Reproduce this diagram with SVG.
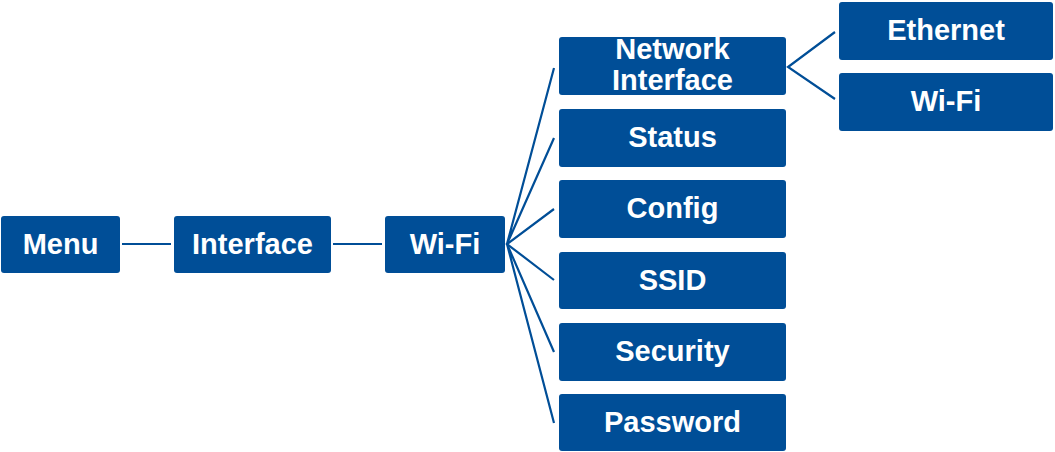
<svg xmlns="http://www.w3.org/2000/svg" width="1055" height="452" viewBox="0 0 1055 452">
<style>
.box{fill:#004E97;}
.t{fill:#fff;font-family:"Liberation Sans",Arial,sans-serif;font-weight:bold;font-size:29px;text-anchor:middle;}
.c{stroke:#004E97;stroke-width:2.2;fill:none;}
</style>
<rect width="1055" height="452" fill="#fff"/>
<g id="connectors">
<line class="c" x1="122" y1="244" x2="171" y2="244"/>
<line class="c" x1="333" y1="244" x2="382" y2="244"/>
<polyline class="c" points="554,68 507,244 554,138"/>
<polyline class="c" points="554,209 507,244 554,280"/>
<polyline class="c" points="554,352 507,244 554,423"/>
<polyline class="c" points="835,32 788,67 835,99"/>
</g>
<g id="menu"><rect class="box" x="1" y="216" width="119" height="57" rx="3"/><text class="t" x="60.5" y="254">Menu</text></g>
<g id="interface"><rect class="box" x="174" y="216" width="157" height="57" rx="3"/><text class="t" x="252.5" y="254">Interface</text></g>
<g id="wifi"><rect class="box" x="385" y="216" width="120" height="57" rx="3"/><text class="t" x="445" y="254">Wi-Fi</text></g>
<g id="network-interface"><rect class="box" x="559" y="37" width="227" height="58" rx="3"/><text class="t" x="672.5" y="59">Network</text><text class="t" x="672.5" y="90">Interface</text></g>
<g id="status"><rect class="box" x="559" y="109" width="227" height="58" rx="3"/><text class="t" x="672.5" y="147">Status</text></g>
<g id="config"><rect class="box" x="559" y="180" width="227" height="58" rx="3"/><text class="t" x="672.5" y="218">Config</text></g>
<g id="ssid"><rect class="box" x="559" y="252" width="227" height="57" rx="3"/><text class="t" x="672.5" y="290">SSID</text></g>
<g id="security"><rect class="box" x="559" y="323" width="227" height="58" rx="3"/><text class="t" x="672.5" y="361">Security</text></g>
<g id="password"><rect class="box" x="559" y="394" width="227" height="57" rx="3"/><text class="t" x="672.5" y="432">Password</text></g>
<g id="ethernet"><rect class="box" x="839" y="2" width="214" height="58" rx="3"/><text class="t" x="946" y="40">Ethernet</text></g>
<g id="wifi2"><rect class="box" x="839" y="73" width="214" height="58" rx="3"/><text class="t" x="946" y="111">Wi-Fi</text></g>
</svg>
